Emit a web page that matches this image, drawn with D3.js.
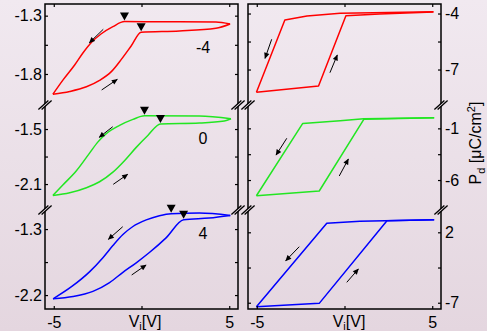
<!DOCTYPE html>
<html>
<head>
<meta charset="utf-8">
<script src="https://cdn.jsdelivr.net/npm/d3@7"></script>
<style>
  html, body { margin: 0; padding: 0; background: #eadfe7; }
  svg { display: block; }
  text { font-family: "Liberation Sans", Arial, sans-serif; }
</style>
</head>
<body>
<script>
// ---------------- DATA ----------------
const V_TICKS = [-5, 0, 5];
const V_TICK_LABELS = ["-5", "", "5"];
const V_DOMAIN = [-5.5, 5.5];
const BIAS_LABELS = ["-4", "0", "4"];
const SERIES_COLORS = ["#ff0000", "#22e622", "#0000ff"];

// left column (vertical scale per row), tick values and minor ticks
const LEFT_Y_DOMAINS = [[-1.2, -2.066], [-1.238, -2.383], [-1.04, -2.39]];
const LEFT_Y_TICKS = [[-1.3, -1.8], [-1.5, -2.1], [-1.3, -2.2]];
const LEFT_Y_MINOR = [[-1.55], [-1.8], [-1.75]];
// right column (P_d in µC/cm²)
const RIGHT_Y_DOMAINS = [[-3.49, -8.9], [1.26, -8.9], [4.85, -7.8]];
const RIGHT_Y_TICKS = [[-4, -7], [-1, -6], [2, -7]];
const RIGHT_Y_MINOR = [[-5.5], [-3.5], [-2.5]];

// left loops: [V, value]; "up" = increasing V, "down" = decreasing V
const leftRedUp = [[-5.05,-1.974],[-4.09,-1.950],[-3.14,-1.910],[-2.39,-1.855],[-1.72,-1.780],[-1.15,-1.675],[-0.59,-1.560],[-0.02,-1.442],[2.16,-1.431],[4.24,-1.408],[5.05,-1.371]];
const leftRedDown = [[5.05,-1.371],[4.24,-1.354],[1.6,-1.352],[-0.97,-1.351],[-1.63,-1.394],[-2.29,-1.455],[-2.86,-1.530],[-3.34,-1.620],[-3.81,-1.723],[-4.47,-1.851],[-5.05,-1.974]];
const leftGreenUp = [[-5.05,-2.224],[-4.09,-2.195],[-3.14,-2.140],[-2.39,-2.075],[-1.63,-1.970],[-0.97,-1.845],[-0.30,-1.700],[0.36,-1.570],[1.08,-1.445],[3.30,-1.435],[4.72,-1.413],[5.1,-1.388]];
const leftGreenDown = [[5.1,-1.388],[3.30,-1.358],[0.17,-1.355],[-0.49,-1.395],[-1.25,-1.460],[-2.01,-1.550],[-2.48,-1.640],[-2.95,-1.760],[-3.71,-1.955],[-4.47,-2.108],[-5.05,-2.224]];
const leftBlueUp = [[-5.04,-2.251],[-3.90,-2.220],[-2.77,-2.150],[-1.82,-2.030],[-1.06,-1.890],[-0.30,-1.760],[0.45,-1.620],[1.40,-1.420],[2.40,-1.173],[3.86,-1.149],[5.06,-1.114]];
const leftBlueDown = [[5.06,-1.114],[3.30,-1.081],[1.69,-1.090],[1.02,-1.118],[0.27,-1.175],[-0.49,-1.265],[-1.06,-1.375],[-1.63,-1.525],[-2.20,-1.690],[-2.95,-1.880],[-3.99,-2.086],[-5.04,-2.251]];

// right loops: [V, P_d]
const rightRedUp = [[-5.02,-8.22],[-1.48,-7.88],[0.08,-4.12],[2.0,-4.02],[5.07,-3.92]];
const rightRedDown = [[5.07,-3.90],[1.63,-3.96],[-0.25,-3.99],[-2.14,-4.13],[-3.40,-4.35],[-5.02,-8.22]];
const rightGreenUp = [[-5.02,-7.52],[-1.44,-7.06],[1.10,-0.13],[5.11,0.03]];
const rightGreenDown = [[5.11,0.03],[1.10,-0.07],[-0.25,-0.26],[-2.38,-0.52],[-5.02,-7.52]];
const rightBlueUp = [[-5.02,-7.51],[-1.44,-7.08],[2.42,3.48],[5.11,3.61]];
const rightBlueDown = [[5.11,3.61],[0.88,3.41],[-1.01,3.15],[-5.02,-7.51]];

// kink markers (left loops) [V, value]
const leftRedKinks = [[-0.97,-1.351],[-0.02,-1.442]];
const leftGreenKinks = [[0.17,-1.355],[1.08,-1.445]];
const leftBlueKinks = [[1.69,-1.090],[2.40,-1.173]];

// direction arrows [[Vfrom, from], [Vto, to]]
const leftRedArrows = [[[-2.18,-1.417],[-2.97,-1.532]], [[-2.27,-1.937],[-1.38,-1.846]]];
const leftGreenArrows = [[[-1.64,-1.475],[-2.41,-1.590]], [[-1.61,-2.103],[-0.79,-1.994]]];
const leftBlueArrows = [[[-1.07,-1.268],[-1.89,-1.44]], [[-0.56,-1.926],[0.26,-1.79]]];
const rightRedArrows = [[[-4.15,-5.38],[-4.53,-6.40]], [[-0.83,-7.17],[-0.41,-6.22]]];
const rightGreenArrows = [[[-3.29,-1.96],[-3.90,-3.58]], [[-0.30,-5.61],[0.22,-3.97]]];
const rightBlueArrows = [[[-2.58,0.16],[-3.35,-1.63]], [[0.13,-4.39],[0.79,-2.69]]];

// ---------------- LAYOUT ----------------
const W = 487, H = 331;
const COLS = [{x0: 45, x1: 238}, {x0: 248, x1: 441}];
const ROWS = [{y0: 4, y1: 105}, {y0: 105, y1: 210}, {y0: 210, y1: 309}];
const FONT = 16;

const svg = d3.select("body").append("svg").attr("width", W).attr("height", H);
const defs = svg.append("defs");
const grad = defs.append("linearGradient").attr("id", "bg").attr("x1", 0).attr("y1", 0).attr("x2", 0).attr("y2", 1);
grad.append("stop").attr("offset", "0%").attr("stop-color", "#f1e9f0");
grad.append("stop").attr("offset", "100%").attr("stop-color", "#e4d6df");
svg.append("rect").attr("width", W).attr("height", H).attr("fill", "url(#bg)");

defs.append("marker").attr("id", "ah").attr("viewBox", "0 0 10 10")
  .attr("refX", 9).attr("refY", 5).attr("markerUnits", "userSpaceOnUse")
  .attr("markerWidth", 7).attr("markerHeight", 6).attr("orient", "auto")
  .append("path").attr("d", "M0,0.5 L10,5 L0,9.5 Z").attr("fill", "#000");

const xL = d3.scaleLinear().domain(V_DOMAIN).range([COLS[0].x0, COLS[0].x1]);
const xR = d3.scaleLinear().domain(V_DOMAIN).range([COLS[1].x0, COLS[1].x1]);

const leftSeries = [
  {up: leftRedUp, down: leftRedDown, kinks: leftRedKinks, arrows: leftRedArrows},
  {up: leftGreenUp, down: leftGreenDown, kinks: leftGreenKinks, arrows: leftGreenArrows},
  {up: leftBlueUp, down: leftBlueDown, kinks: leftBlueKinks, arrows: leftBlueArrows}
];
const rightSeries = [
  {up: rightRedUp, down: rightRedDown, arrows: rightRedArrows},
  {up: rightGreenUp, down: rightGreenDown, arrows: rightGreenArrows},
  {up: rightBlueUp, down: rightBlueDown, arrows: rightBlueArrows}
];

function styleAxis(g) {
  g.select(".domain").remove();
  g.attr("font-size", FONT).attr("font-family", "'Liberation Sans', Arial, sans-serif").attr("color", "#000");
  g.selectAll(".tick line").attr("stroke-width", 1.2);
}

const fmtL = v => v.toFixed(1);
const fmtR = v => String(v);
const sortV = arr => arr.slice().sort((a, b) => a[0] - b[0]);

ROWS.forEach((row, r) => {
  const yL = d3.scaleLinear().domain(LEFT_Y_DOMAINS[r]).range([row.y0, row.y1]);
  const yR = d3.scaleLinear().domain(RIGHT_Y_DOMAINS[r]).range([row.y0, row.y1]);
  const lMaj = LEFT_Y_TICKS[r], rMaj = RIGHT_Y_TICKS[r];

  // left column axes
  svg.append("g").attr("transform", `translate(${COLS[0].x0},0)`)
    .call(d3.axisLeft(yL).tickValues(lMaj.concat(LEFT_Y_MINOR[r])).tickSizeInner(-3).tickSizeOuter(0).tickPadding(3)
      .tickFormat(v => lMaj.includes(v) ? fmtL(v) : ""))
    .call(styleAxis);
  svg.append("g").attr("transform", `translate(${COLS[0].x1},0)`)
    .call(d3.axisRight(yL).tickValues(lMaj.concat(LEFT_Y_MINOR[r])).tickSizeInner(-3).tickSizeOuter(0).tickFormat(""))
    .call(styleAxis);
  // right column axes
  svg.append("g").attr("transform", `translate(${COLS[1].x0},0)`)
    .call(d3.axisLeft(yR).tickValues(rMaj.concat(RIGHT_Y_MINOR[r])).tickSizeInner(-3).tickSizeOuter(0).tickFormat(""))
    .call(styleAxis);
  svg.append("g").attr("transform", `translate(${COLS[1].x1},0)`)
    .call(d3.axisRight(yR).tickValues(rMaj.concat(RIGHT_Y_MINOR[r])).tickSizeInner(-3).tickSizeOuter(0).tickPadding(4)
      .tickFormat(v => rMaj.includes(v) ? fmtR(v) : ""))
    .call(styleAxis);

  const color = SERIES_COLORS[r];
  // left loops
  const lineL = d3.line().x(d => xL(d[0])).y(d => yL(d[1])).curve(d3.curveMonotoneX);
  const ls = leftSeries[r];
  [ls.up, ls.down].forEach(br => {
    svg.append("path").attr("d", lineL(sortV(br))).attr("fill", "none").attr("stroke", color)
      .attr("stroke-width", 1.5).attr("stroke-linejoin", "round");
  });
  ls.kinks.forEach(k => {
    const cx = xL(k[0]), cy = yL(k[1]);
    svg.append("path").attr("d", `M${cx - 4.5},${cy - 9} L${cx + 4.5},${cy - 9} L${cx},${cy - 1} Z`).attr("fill", "#000");
  });
  ls.arrows.forEach(a => {
    svg.append("line").attr("x1", xL(a[0][0])).attr("y1", yL(a[0][1]))
      .attr("x2", xL(a[1][0])).attr("y2", yL(a[1][1]))
      .attr("stroke", "#000").attr("stroke-width", 1).attr("marker-end", "url(#ah)");
  });
  // right loops
  const lineR = d3.line().x(d => xR(d[0])).y(d => yR(d[1])).curve(d3.curveLinear);
  const rs = rightSeries[r];
  [rs.up, rs.down].forEach(br => {
    svg.append("path").attr("d", lineR(br)).attr("fill", "none").attr("stroke", color)
      .attr("stroke-width", 1.5).attr("stroke-linejoin", "round");
  });
  rs.arrows.forEach(a => {
    svg.append("line").attr("x1", xR(a[0][0])).attr("y1", yR(a[0][1]))
      .attr("x2", xR(a[1][0])).attr("y2", yR(a[1][1]))
      .attr("stroke", "#000").attr("stroke-width", 1).attr("marker-end", "url(#ah)");
  });

  // bias label
  svg.append("text").attr("x", 203).attr("y", [53, 144, 239][r]).attr("text-anchor", "middle")
    .attr("font-size", FONT).text(BIAS_LABELS[r]);
});

// x axes, top & bottom, both columns
[xL, xR].forEach((xs, c) => {
  svg.append("g").attr("transform", `translate(0,${ROWS[2].y1})`)
    .call(d3.axisBottom(xs).tickValues(V_TICKS).tickSizeInner(-3).tickSizeOuter(0).tickPadding(8)
      .tickFormat((v, i) => V_TICK_LABELS[i]))
    .call(styleAxis);
  svg.append("g").attr("transform", `translate(0,${ROWS[0].y0})`)
    .call(d3.axisTop(xs).tickValues(V_TICKS).tickSizeInner(-3).tickSizeOuter(0).tickFormat(""))
    .call(styleAxis);
});

// frames
COLS.forEach(col => {
  svg.append("rect").attr("x", col.x0).attr("y", ROWS[0].y0)
    .attr("width", col.x1 - col.x0).attr("height", ROWS[2].y1 - ROWS[0].y0)
    .attr("fill", "none").attr("stroke", "#000").attr("stroke-width", 1.5);
});

// axis break marks
const bgAt = y => d3.interpolateRgb("#f1e9f0", "#e4d6df")(y / H);
[ROWS[0].y1, ROWS[1].y1].forEach(by => {
  [COLS[0].x0, COLS[0].x1, COLS[1].x0, COLS[1].x1].forEach(ax => {
    const g = svg.append("g");
    g.append("path").attr("d", `M${ax - 6.5},${by + 4} L${ax + 3.5},${by - 4} L${ax + 6.5},${by - 4} L${ax - 3.5},${by + 4} Z`)
      .attr("fill", bgAt(by));
    [-1.6, 1.6].forEach(d => {
      g.append("line").attr("x1", ax - 5 + d).attr("y1", by + 4.5).attr("x2", ax + 5 + d).attr("y2", by - 4.5)
        .attr("stroke", "#000").attr("stroke-width", 1.3);
    });
  });
});

// axis titles
function vLabel(x) {
  const t = svg.append("text").attr("x", x).attr("y", 327).attr("text-anchor", "middle").attr("font-size", FONT);
  t.append("tspan").text("V");
  t.append("tspan").attr("font-size", 11).attr("dy", 3).text("i");
  t.append("tspan").attr("dy", -3).text("[V]");
}
vLabel(145);
vLabel(349);

const pl = svg.append("text").attr("transform", "translate(481,143) rotate(-90)")
  .attr("text-anchor", "middle").attr("font-size", FONT);
pl.append("tspan").text("P");
pl.append("tspan").attr("font-size", 11).attr("dy", 4).text("d");
pl.append("tspan").attr("dy", -4).text(" [μC/cm");
pl.append("tspan").attr("font-size", 11).attr("dy", -6).text("2");
pl.append("tspan").attr("dy", 6).text("]");
</script>
</body>
</html>
